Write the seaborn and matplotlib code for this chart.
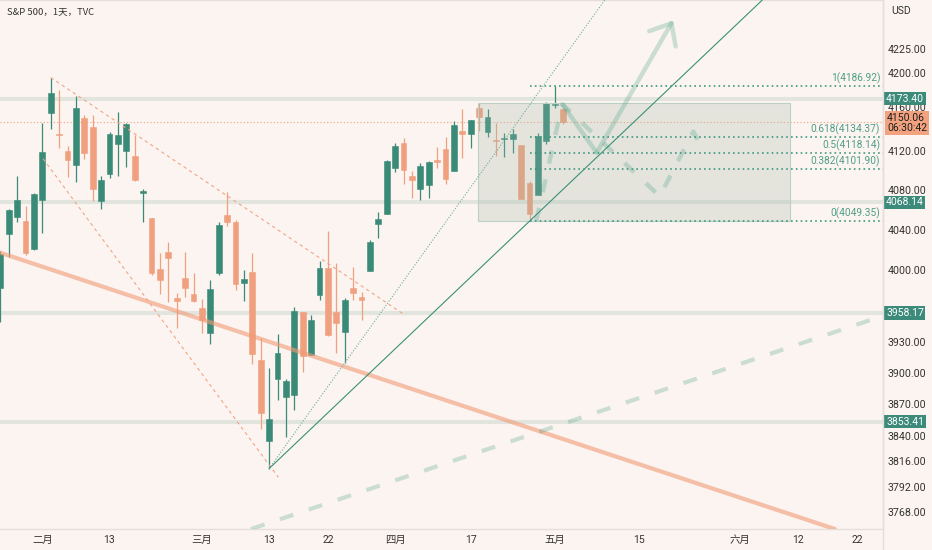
import numpy as np
import pandas as pd
import matplotlib
matplotlib.use("Agg")
import matplotlib.pyplot as plt
import seaborn as sns
from matplotlib.patches import Rectangle
from matplotlib.lines import Line2D
from matplotlib.ticker import FixedLocator, FixedFormatter, NullLocator

# ------------------------------------------------------------------ data
holidays = ["2023-02-20", "2023-04-07", "2023-05-29", "2023-06-19"]
sessions = pd.bdate_range("2023-01-25", "2023-06-30", freq="C", holidays=holidays)

opens = [3982.71, 4036.08, 4053.72, 4049.27, 4020.85, 4070.07, 4158.68, 4136.69, 4119.57, 4105.35,
         4153.47, 4144.25, 4068.92, 4096.62, 4126.70, 4119.50, 4114.75, 4077.39, 4052.35, 4001.83,
         4018.60, 3973.24, 3992.36, 3977.19, 3963.34, 3938.68, 3998.02, 4055.15, 4048.26, 3987.55,
         3998.66, 3912.77, 3835.12, 3894.01, 3876.74, 3878.93, 3958.69, 3917.47, 3975.89, 4002.04,
         3959.21, 3939.21, 3982.93, 3974.13, 3999.53, 4046.74, 4056.18, 4102.20, 4128.03, 4094.50,
         4081.15, 4085.20, 4110.29, 4121.72, 4100.04, 4140.11, 4137.17, 4164.26, 4139.33, 4130.48,
         4132.14, 4132.07, 4126.43, 4087.78, 4075.29, 4129.63, 4166.79, 4162.80]
highs = [4019.55, 4061.57, 4094.21, 4063.85, 4077.16, 4148.95, 4195.44, 4182.36, 4124.63, 4176.54,
         4156.85, 4156.23, 4094.36, 4138.90, 4159.77, 4148.11, 4136.54, 4081.51, 4052.35, 4017.37,
         4028.30, 3978.25, 4018.05, 3997.50, 3971.73, 3990.84, 4048.29, 4078.49, 4050.00, 4000.41,
         4017.81, 3934.05, 3905.05, 3937.29, 3894.26, 3964.46, 3958.91, 3956.62, 4009.08, 4039.49,
         4007.66, 3972.74, 4003.83, 3979.20, 4030.59, 4057.85, 4110.75, 4127.66, 4133.13, 4099.69,
         4107.32, 4109.50, 4124.26, 4134.37, 4150.26, 4163.19, 4151.72, 4169.48, 4162.57, 4148.57,
         4138.02, 4142.41, 4126.43, 4089.67, 4138.24, 4170.06, 4186.92, 4164.10]
lows = [3949.06, 4013.29, 4048.70, 4015.55, 4020.44, 4037.20, 4141.88, 4123.36, 4093.38, 4088.39,
        4111.67, 4069.67, 4060.79, 4092.67, 4095.01, 4103.98, 4089.89, 4047.95, 3995.19, 3976.90,
        3969.19, 3943.08, 3973.55, 3968.98, 3939.05, 3928.16, 3995.17, 4044.61, 3980.31, 3969.76,
        3908.70, 3846.32, 3808.86, 3873.63, 3838.24, 3864.11, 3901.27, 3916.89, 3971.19, 3936.17,
        3919.05, 3909.16, 3970.49, 3951.53, 3999.53, 4032.10, 4056.18, 4098.79, 4086.87, 4072.56,
        4069.84, 4072.55, 4102.61, 4086.94, 4099.40, 4113.20, 4123.18, 4140.36, 4134.49, 4114.57,
        4113.86, 4117.77, 4071.38, 4049.35, 4075.29, 4127.18, 4164.12, 4147.00]
closes = [4016.22, 4060.43, 4070.56, 4017.77, 4076.60, 4119.21, 4179.76, 4136.48, 4111.08, 4164.00,
          4117.86, 4081.50, 4090.46, 4137.29, 4136.13, 4147.60, 4090.41, 4079.09, 3997.34, 3991.05,
          4012.32, 3970.04, 3982.24, 3970.15, 3951.39, 3981.35, 4045.64, 4048.42, 3986.37, 3992.01,
          3918.32, 3861.59, 3855.76, 3919.29, 3891.93, 3960.28, 3916.64, 3951.57, 4002.87, 3936.97,
          3948.72, 3970.99, 3977.53, 3971.27, 4027.81, 4050.83, 4109.31, 4124.51, 4100.60, 4090.38,
          4105.02, 4109.11, 4108.94, 4091.95, 4146.22, 4137.64, 4151.32, 4154.87, 4154.52, 4129.79,
          4133.52, 4137.04, 4071.63, 4055.99, 4135.35, 4169.48, 4167.87, 4150.06]

level_prices = [4173.40, 4068.14, 3958.17, 3853.41]
last_price = 4150.06
countdown = "06:30:42"
y_ticks = [4225, 4200, 4160, 4120, 4080, 4040, 4000, 3930, 3900, 3870, 3840, 3816, 3792, 3768]
x_tick_dates = ["2023-02-01", "2023-02-13", "2023-03-01", "2023-03-13", "2023-03-22", "2023-04-03",
                "2023-04-17", "2023-05-01", "2023-05-15", "2023-06-01", "2023-06-12", "2023-06-22"]
month_names = {2: "二月", 3: "三月", 4: "四月", 5: "五月", 6: "六月"}
fib_ratios = [1, 0.618, 0.5, 0.382, 0]
fib_names = ["1", "0.618", "0.5", "0.382", "0"]
title = "S&P 500，1天，TVC"

# user drawings: anchor points as (bar index, price)
resistance_line = [(0.0, 4017.6), (99.5, 3752.0)]
support_dash_line = [(31.0, 3755.4), (105.08, 3955.5)]
channel_upper = [(6.0, 4195.44), (48.2, 3956.0)]
channel_lower = [(5.1, 4112.0), (33.1, 3800.6)]
trend_solid_through = (83.3, 4214.5)
trend_dotted_through = (65.2, 4193.6)
box_corners = [(56.9, 4049.35), (94.0, 4169.5)]
proj_solid = [(66.9, 4167.9), (71.0, 4118.1), (80.1, 4255.3)]
proj_dashed = [(63.8, 4049.35), (66.9, 4167.9), (78.5, 4074.0), (82.5, 4139.8), (83.9, 4117.3)]

# ------------------------------------------------------------------ style
BG = "#FCF4F0"
GREEN = "#3A8A78"
RED = "#F0A07E"
TXT = "#333333"
sns.set_theme(style="white", rc={"axes.facecolor": BG, "figure.facecolor": BG})
plt.rcParams["font.family"] = ["Roboto", "Noto Sans CJK SC"]

fig = plt.figure(figsize=(9.32, 5.5), dpi=100)
ax = fig.add_axes([0, 1 - 529 / 550, 883 / 932, 529 / 550])
ax.set_facecolor(BG)
ax.set_yscale("log")

x = np.arange(len(opens))
o, h, l, c = (np.array(v) for v in (opens, highs, lows, closes))
up = c >= o
cols = np.where(up, GREEN, RED)

# horizontal levels
for p in level_prices:
    ax.axhline(p, color="#E2E4DE", lw=2.9, zorder=1)
ax.axhline(last_price, color="#F2A080", lw=0.8, ls=(0, (1, 2)), zorder=2)

# candles
ax.vlines(x, l, h, colors=cols, lw=0.9, zorder=3)
bottom = np.minimum(o, c)
height = np.maximum(np.abs(c - o), 1.0)
ax.bar(x, height, bottom=bottom, width=0.7, color=cols, edgecolor=cols, lw=0.4, zorder=4)

# box
(bx0, by0), (bx1, by1) = box_corners
ax.add_patch(Rectangle((bx0, by0), bx1 - bx0, by1 - by0, facecolor="#9DB8A8", alpha=0.25,
                       edgecolor="none", zorder=4.5))
ax.add_patch(Rectangle((bx0, by0), bx1 - bx0, by1 - by0, facecolor="none",
                       edgecolor="#BBD0C7", lw=0.8, zorder=4.6))

# long lines
ax.axline(*resistance_line, color="#F19A75", alpha=0.6, lw=3.0, zorder=5)
ax.axline(*support_dash_line, color="#3A9A7A", alpha=0.25, lw=3.0, dashes=(3.4, 3.9), zorder=5)


def seg(points, **kw):
    xs, ys = zip(*points)
    ax.plot(xs, ys, **kw)


seg(channel_upper, color="#F2A486", lw=0.8, ls=(0, (3, 3)), zorder=5)
seg(channel_lower, color="#F2A486", lw=0.8, ls=(0, (3, 3)), zorder=5)


def ray(p0, p1, t=3.0):
    x0, y0 = p0
    x1, y1 = p1
    return [x0, x0 + t * (x1 - x0)], [y0, np.exp(np.log(y0) + t * (np.log(y1) - np.log(y0)))]


low_anchor = (32, lows[32])
rx, ry = ray(low_anchor, trend_solid_through)
ax.plot(rx, ry, color="#3A9078", lw=0.8, zorder=6)
rx, ry = ray(low_anchor, trend_dotted_through)
ax.plot(rx, ry, color="#6AAE99", lw=0.8, ls=(0, (1, 1.5)), zorder=6)

# fibonacci retracement
fib_lo = lows[63]
fib_hi = highs[66]
for r, name in zip(fib_ratios, fib_names):
    lvl = fib_lo + r * (fib_hi - fib_lo)
    ax.plot([63, 110], [lvl, lvl], color="#3D9A80", lw=1.2, ls=(0, (1, 1.9)), zorder=6)
    ax.annotate(f"{name}({lvl:.2f})", xy=(1, lvl), xycoords=("axes fraction", "data"),
                xytext=(-2, 1.2), textcoords="offset points", ha="right", va="bottom",
                fontsize=7.3, color="#4F9E89", zorder=7)

# projection paths
PROJ = "#3A9A7A"
seg(proj_dashed, color=PROJ, alpha=0.25, lw=3.2, dashes=(3.0, 3.6), zorder=7)
seg(proj_solid[:2], color=PROJ, alpha=0.25, lw=3.2, solid_capstyle="butt", zorder=7)
ax.annotate("", xy=proj_solid[2], xytext=proj_solid[1],
            arrowprops=dict(arrowstyle="->,head_length=0.65,head_width=0.55", color=PROJ,
                            alpha=0.25, lw=3.2, mutation_scale=20, shrinkA=0, shrinkB=0),
            zorder=7)

# axes limits and ticks
ax.set_xlim(-0.036, 105.08)
ax.set_ylim(3752.4, 4276.6)
ax.yaxis.tick_right()
ax.yaxis.set_major_locator(FixedLocator(y_ticks))
near_last = [abs(v - last_price) < 15 for v in y_ticks]
ax.yaxis.set_major_formatter(FixedFormatter(["" if n else f"{v:.2f}" for v, n in zip(y_ticks, near_last)]))
ax.yaxis.set_minor_locator(NullLocator())
for v, n in zip(y_ticks, near_last):
    if n:  # label squeezed just above the live price tag, as on the price scale
        ax.annotate(f"{v:.2f}", xy=(1, v), xycoords=("axes fraction", "data"), xytext=(3.6, 3.0),
                    textcoords="offset points", ha="left", va="center", fontsize=7.7, color=TXT,
                    annotation_clip=False)
tick_pos = [sessions.get_loc(pd.Timestamp(d)) for d in x_tick_dates]
tick_lab = []
for d in x_tick_dates:
    ts = pd.Timestamp(d)
    first = sessions[(sessions.month == ts.month) & (sessions.year == ts.year)][0]
    tick_lab.append(month_names[ts.month] if ts == first else str(ts.day))
ax.set_xticks(tick_pos)
ax.set_xticklabels(tick_lab)
ax.tick_params(axis="y", length=0, pad=3.6, labelsize=7.7, colors=TXT)
ax.tick_params(axis="x", length=0, pad=4.5, labelsize=7.5, colors=TXT)
ax.grid(False)

ax.spines["left"].set_visible(False)
for side in ["right", "bottom", "top"]:
    ax.spines[side].set_color("#E4DFDB")
    ax.spines[side].set_linewidth(1.0)

fig.add_artist(Line2D([883 / 932] * 2, [0, 1], transform=fig.transFigure, color="#E4DFDB", lw=1.0))

# price labels on scale
for p in level_prices:
    ax.annotate(f"{p:.2f}", xy=(1, p), xycoords=("axes fraction", "data"), xytext=(2.2, 0),
                textcoords="offset points", ha="left", va="center", fontsize=7.5, color="white",
                bbox=dict(boxstyle="square,pad=0.15", fc="#3B8A7A", ec="none"),
                annotation_clip=False, zorder=10)
ax.annotate(f"{last_price:.2f}\n{countdown}", xy=(1, last_price), xycoords=("axes fraction", "data"),
            xytext=(2.8, -1.0), textcoords="offset points", ha="left", va="center", fontsize=7.5,
            color="#1E1E1E", linespacing=0.95,
            bbox=dict(boxstyle="square,pad=0.18", fc="#F2A27F", ec="none"),
            annotation_clip=False, zorder=10)

fig.text(891 / 932, 1 - 11 / 550, "USD", fontsize=7.5, color=TXT, va="center", ha="left")
fig.text(7 / 932, 1 - 12 / 550, title, fontsize=6.8, color=TXT, va="center", ha="left",
         family=["Noto Sans CJK SC", "DejaVu Sans"])

fig.savefig("out.png", dpi=100, facecolor=BG)
